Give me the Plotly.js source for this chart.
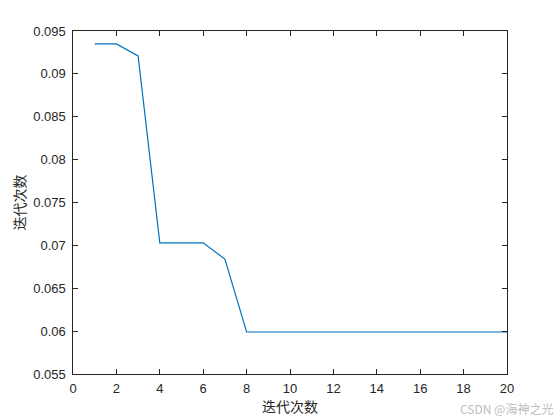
<!DOCTYPE html>
<html>
<head>
<meta charset="utf-8">
<script src="https://cdn.plot.ly/plotly-3.0.1.min.js"></script>
<style>html,body{margin:0;padding:0;background:#fff;}#chart{width:560px;height:420px;}</style>
</head>
<body>
<div id="chart"></div>
<script>
const iterations = [1,2,3,4,5,6,7,8,9,10,11,12,13,14,15,16,17,18,19,20];
const fitness = [0.0935,0.0935,0.0921,0.0703,0.0703,0.0703,0.0684,0.0599,0.0599,0.0599,0.0599,0.0599,0.0599,0.0599,0.0599,0.0599,0.0599,0.0599,0.0599,0.0599];
const xTicks = [0,2,4,6,8,10,12,14,16,18,20];
const yTicks = [0.055,0.06,0.065,0.07,0.075,0.08,0.085,0.09,0.095];
const yTickText = ['0.055','0.06','0.065','0.07','0.075','0.08','0.085','0.09','0.095'];
const axisLabel = '迭代次数';
const watermark = 'CSDN @海神之光';

const trace = {
  x: iterations, y: fitness, type: 'scatter', mode: 'lines',
  line: {color: '#0072BD', width: 1.2}, hoverinfo: 'skip'
};
const tickFont = {family: 'Liberation Sans, Arial, sans-serif', size: 13, color: '#262626'};
const layout = {
  width: 560, height: 420,
  margin: {l: 73, r: 53, t: 31, b: 46},
  paper_bgcolor: '#fff', plot_bgcolor: '#fff',
  showlegend: false,
  xaxis: {
    range: [0, 20], tickvals: xTicks, ticktext: xTicks.map(String),
    ticks: 'inside', ticklen: 5, tickcolor: '#262626', tickwidth: 1,
    ticklabelstandoff: 2,
    showline: true, linecolor: '#262626', linewidth: 1, mirror: 'ticks',
    showgrid: false, zeroline: false, tickfont: tickFont,
    title: {text: axisLabel, font: {family: 'Noto Sans CJK SC', size: 14, color: '#262626'}, standoff: 5}
  },
  yaxis: {
    range: [0.055, 0.095], tickvals: yTicks, ticktext: yTickText.map(t => t + '\u00a0'),
    ticks: 'inside', ticklen: 5, tickcolor: '#262626', tickwidth: 1,
    showline: true, linecolor: '#262626', linewidth: 1, mirror: 'ticks',
    showgrid: false, zeroline: false, tickfont: tickFont,
    title: {text: axisLabel, font: {family: 'Noto Sans CJK SC', size: 14, color: '#262626'}, standoff: 4}
  },
  annotations: [{
    text: watermark, xref: 'paper', yref: 'paper', x: 1.111, y: -0.102,
    xanchor: 'right', yanchor: 'middle', showarrow: false,
    font: {family: 'Noto Sans CJK SC', size: 12, color: '#bdbdbd'}
  }]
};
Plotly.newPlot('chart', [trace], layout, {staticPlot: true, displayModeBar: false});
</script>
</body>
</html>
